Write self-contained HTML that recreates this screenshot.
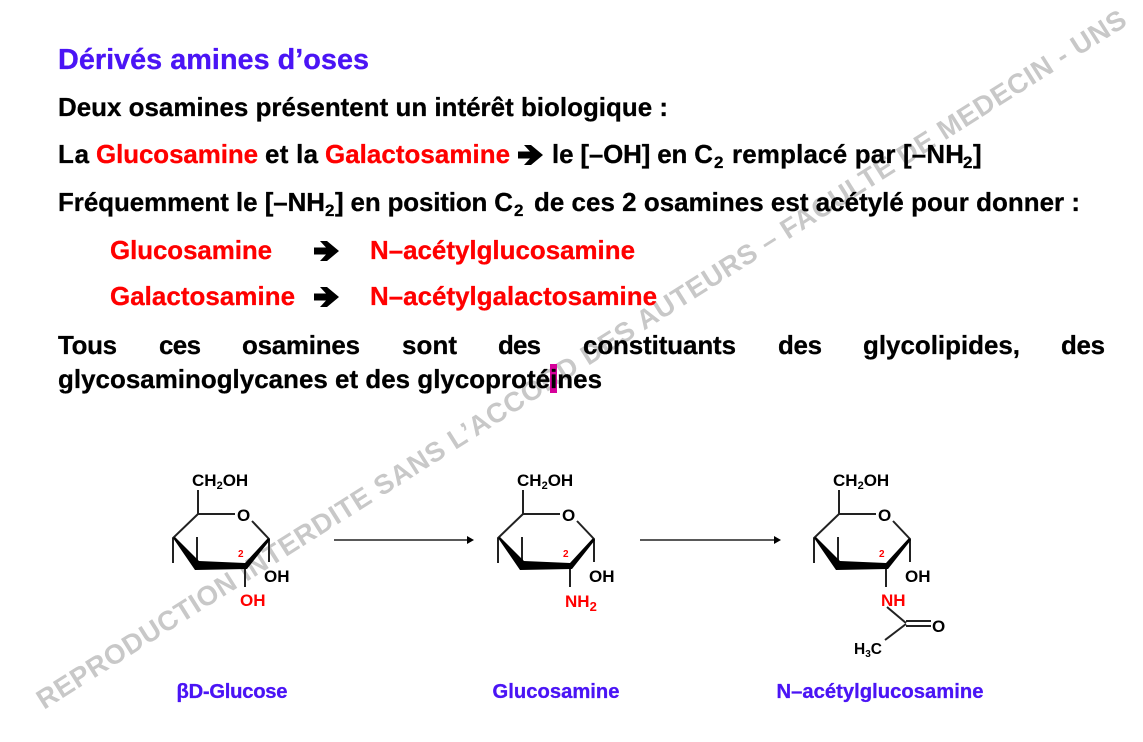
<!DOCTYPE html>
<html lang="fr"><head><meta charset="utf-8"><title>Dérivés amines d’oses</title>
<style>
html,body{margin:0;padding:0;background:#fff}
svg{display:block;width:1143px;height:742px}
text{font-family:"Liberation Sans",Arial,sans-serif;font-weight:700}
.t{font-size:25.9px;fill:#000;stroke:#000;stroke-width:.3px}
.r{fill:#f00;stroke:#f00}
.s{font-size:17px}
.l{font-size:20.2px;fill:#4a14f5;stroke:#4a14f5;stroke-width:.3px;text-anchor:middle}
.c{font-size:17px;fill:#000}
.rc{font-size:17px;fill:#f00}
.n{font-size:10px;fill:#f00}
.b{stroke:#222;stroke-width:2;fill:none}
</style></head><body>
<svg xmlns="http://www.w3.org/2000/svg" width="1143" height="742" viewBox="0 0 1143 742">
<defs>
<g id="ring">
<path class="b" d="M198 490V514H235M252 521L269 539V562M198 514L173 538V563M197 566V537M245 566V587"/>
<polygon points="173,538 175,537 199,561 245,563 268,538 270,540 247,569 195,570" fill="#000"/>
<text class="c" x="192" y="486">CH<tspan font-size="11" dy="3">2</tspan><tspan dy="-3">OH</tspan></text>
<text class="c" x="237" y="521">O</text>
<text class="n" x="238" y="557">2</text>
<text class="c" x="264" y="582">OH</text>
</g>
<g id="arr"><polygon points="0,-3.500 12,-3.500 6,-10 13,-10 25,0 13,10 6,10 12,3.500 0,3.500" fill="#000"/></g>
</defs>
<rect width="1143" height="742" fill="#fff"/>
<text transform="translate(44 710) rotate(-32.300)" x="0" y="0" font-size="27.500" fill="#c8c8c8" textLength="1283" lengthAdjust="spacing">REPRODUCTION INTERDITE SANS L’ACCORD DES AUTEURS – FACULTE DE MEDECIN - UNS</text>

<text x="58" y="69" font-size="28.800" fill="#4a14f5" stroke="#4a14f5" stroke-width=".3" textLength="311" lengthAdjust="spacing">Dérivés amines d’oses</text>
<text class="t" x="58" y="116" textLength="610">Deux osamines présentent un intérêt biologique :</text>

<text class="t" x="58" y="163" textLength="31">La</text>
<text class="t r" x="96" y="163" textLength="162">Glucosamine</text>
<text class="t" x="265" y="163" textLength="53">et la</text>
<text class="t r" x="325" y="163" textLength="185">Galactosamine</text>
<use href="#arr" x="518" y="155"/>
<text class="t" x="552" y="163" textLength="161">le [–OH] en C</text>
<text class="t s" x="714" y="168">2</text>
<text class="t" x="732" y="163" textLength="232">remplacé par [–NH</text>
<text class="t s" x="963" y="168">2</text>
<text class="t" x="973" y="163">]</text>

<text class="t" x="58" y="211" textLength="267">Fréquemment le [–NH</text>
<text class="t s" x="325" y="216">2</text>
<text class="t" x="335" y="211" textLength="178">] en position C</text>
<text class="t s" x="514" y="216">2</text>
<text class="t" x="534" y="211" textLength="546">de ces 2 osamines est acétylé pour donner :</text>

<text class="t r" x="110" y="259" textLength="162">Glucosamine</text>
<use href="#arr" x="314" y="251"/>
<text class="t r" x="370" y="259" textLength="265">N–acétylglucosamine</text>
<text class="t r" x="110" y="305" textLength="185">Galactosamine</text>
<use href="#arr" x="314" y="297"/>
<text class="t r" x="370" y="305" textLength="287">N–acétylgalactosamine</text>

<text class="t" x="58" y="354" textLength="59">Tous</text>
<text class="t" x="159" y="354" textLength="42">ces</text>
<text class="t" x="242" y="354" textLength="118">osamines</text>
<text class="t" x="402" y="354" textLength="55">sont</text>
<text class="t" x="498" y="354" textLength="43">des</text>
<text class="t" x="583" y="354" textLength="153">constituants</text>
<text class="t" x="778" y="354" textLength="44">des</text>
<text class="t" x="863" y="354" textLength="157">glycolipides,</text>
<text class="t" x="1061" y="354" textLength="44">des</text>
<rect x="550" y="364" width="7" height="29" fill="#d6009a"/>
<text class="t" x="58" y="388" textLength="544">glycosaminoglycanes et des glycoprotéines</text>

<use href="#ring"/>
<use href="#ring" x="325"/>
<use href="#ring" x="641"/>
<text class="rc" x="240" y="606">OH</text>
<text class="rc" x="565" y="607">NH<tspan font-size="13" dy="4">2</tspan></text>
<text class="rc" x="881" y="606">NH</text>
<path class="b" d="M887 607L906 623M906 621H931M906 626H931M906 624L885 640"/>
<text class="c" x="932" y="632">O</text>
<text x="854" y="654" font-size="15.500" fill="#000">H<tspan font-size="10" dy="3">3</tspan><tspan dy="-3">C</tspan></text>

<path d="M334 540H468" stroke="#222" stroke-width="1.600"/>
<polygon points="467,536 474,540 467,544" fill="#000"/>
<path d="M640 540H775" stroke="#222" stroke-width="1.600"/>
<polygon points="774,536 781,540 774,544" fill="#000"/>

<text class="l" x="232" y="698" textLength="111">βD-Glucose</text>
<text class="l" x="556" y="698" textLength="127">Glucosamine</text>
<text class="l" x="880" y="698" textLength="207">N–acétylglucosamine</text>
</svg>
</body></html>
